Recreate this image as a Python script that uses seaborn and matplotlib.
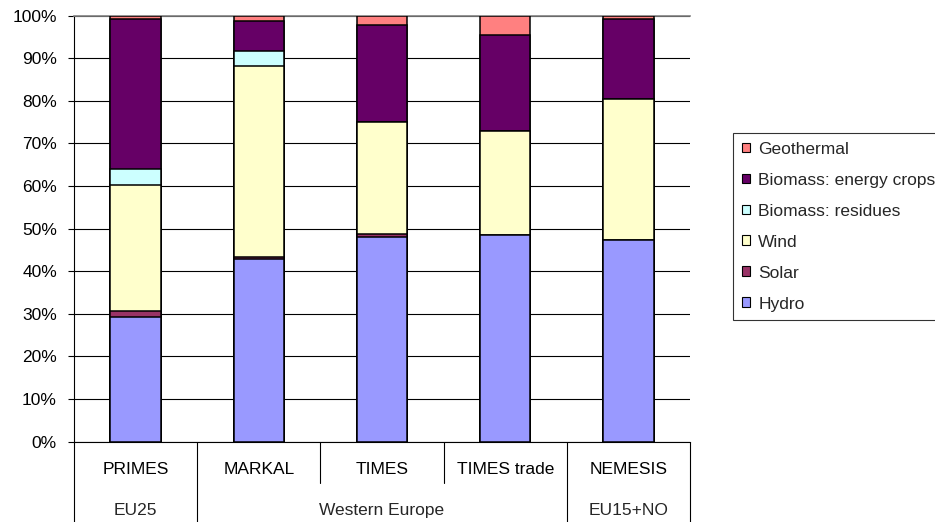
import matplotlib
matplotlib.use("Agg")
import matplotlib.pyplot as plt
import matplotlib.transforms as mtransforms
from matplotlib.patches import Patch
from matplotlib.ticker import FuncFormatter
import numpy as np
import pandas as pd
import seaborn as sns

# model runs on the category axis and the region each one covers
models = ["PRIMES", "MARKAL", "TIMES", "TIMES trade", "NEMESIS"]
regions = ["EU25", "Western Europe", "Western Europe", "Western Europe", "EU15+NO"]

# share of renewable electricity by source, % (bottom to top of each stack)
hydro = [29.3, 42.9, 48.1, 48.4, 47.4]
solar = [1.4, 0.5, 0.6, 0.0, 0.0]
wind = [29.5, 44.8, 26.3, 24.5, 33.0]
residues = [3.8, 3.5, 0.0, 0.0, 0.0]
energy_crops = [35.3, 7.1, 22.9, 22.5, 18.9]
geothermal = [0.7, 1.2, 2.1, 4.6, 0.7]

sources = ["Hydro", "Solar", "Wind", "Biomass: residues",
           "Biomass: energy crops", "Geothermal"]
colors = ["#9999FF", "#993366", "#FFFFCC", "#CCFFFF", "#660066", "#FF8080"]

sns.set_theme(style="white")
plt.rcParams["font.family"] = ["Liberation Sans", "DejaVu Sans"]
plt.rcParams["font.size"] = 12.5

df = pd.DataFrame(
    {"model": models, "Hydro": hydro, "Solar": solar, "Wind": wind,
     "Biomass: residues": residues, "Biomass: energy crops": energy_crops,
     "Geothermal": geothermal}
)
tops = df[sources].cumsum(axis=1)

fig = plt.figure(figsize=(9.35, 5.22), dpi=100)
ax = fig.add_axes([74 / 935, 1 - 441.5 / 522, 616 / 935, 425.8 / 522])

# stacked bars: draw cumulative totals from the top layer down
for src, col in reversed(list(zip(sources, colors))):
    sns.barplot(x=df["model"], y=tops[src], color=col, edgecolor="black",
                linewidth=1.1, width=0.41, saturation=1, ax=ax, zorder=3)

ax.set_xlim(-0.5, len(models) - 0.5)
ax.set_ylim(0, 100)
ax.set_yticks(np.arange(0, 101, 10))
ax.yaxis.set_major_formatter(FuncFormatter(lambda v, _: f"{v:.0f}%"))
ax.yaxis.grid(True, color="black", linewidth=0.8, zorder=0)
ax.set_axisbelow(True)
ax.set_xlabel("")
ax.set_ylabel("")
ax.tick_params(axis="y", left=True, length=4.3, width=0.8, color="black",
               pad=8, labelsize=12.5, labelcolor="black")
ax.tick_params(axis="x", bottom=False, length=0, pad=15, labelsize=12.5,
               labelcolor="black")

for side in ["left", "bottom"]:
    ax.spines[side].set_color("black")
    ax.spines[side].set_linewidth(0.8)
ax.spines["right"].set_visible(False)
ax.spines["top"].set_color("#808080")
ax.spines["top"].set_linewidth(1.2)

# two-level category table under the axis
trans = mtransforms.blended_transform_factory(ax.transData, ax.transAxes)
line_kw = dict(color="black", linewidth=0.8, transform=trans, clip_on=False)
n = len(models)
ax.plot([-0.5, -0.5], [0, -0.2], **line_kw)
ax.plot([n - 0.5, n - 0.5], [0, -0.2], **line_kw)
start = 0
for i in range(1, n + 1):
    if i == n or regions[i] != regions[start]:
        ax.text((start + i - 1) / 2, -0.163, regions[start], ha="center",
                va="center", fontsize=12.5, transform=trans)
        if i < n:
            ax.plot([i - 0.5, i - 0.5], [0, -0.2], **line_kw)
        start = i
    else:
        ax.plot([i - 0.5, i - 0.5], [0, -0.0975], **line_kw)

handles = [Patch(facecolor=c, edgecolor="black", linewidth=0.8)
           for c in colors]
leg = fig.legend(handles[::-1], sources[::-1], loc="upper left",
                 bbox_to_anchor=(733 / 935, 1 - 133 / 522), borderaxespad=0,
                 frameon=True, fancybox=False, edgecolor="black",
                 fontsize=12.5, handlelength=0.5, handleheight=0.5,
                 handletextpad=0.45, labelspacing=0.92, borderpad=0.5)
leg.get_frame().set_linewidth(0.8)

fig.savefig("out.png", dpi=100)
